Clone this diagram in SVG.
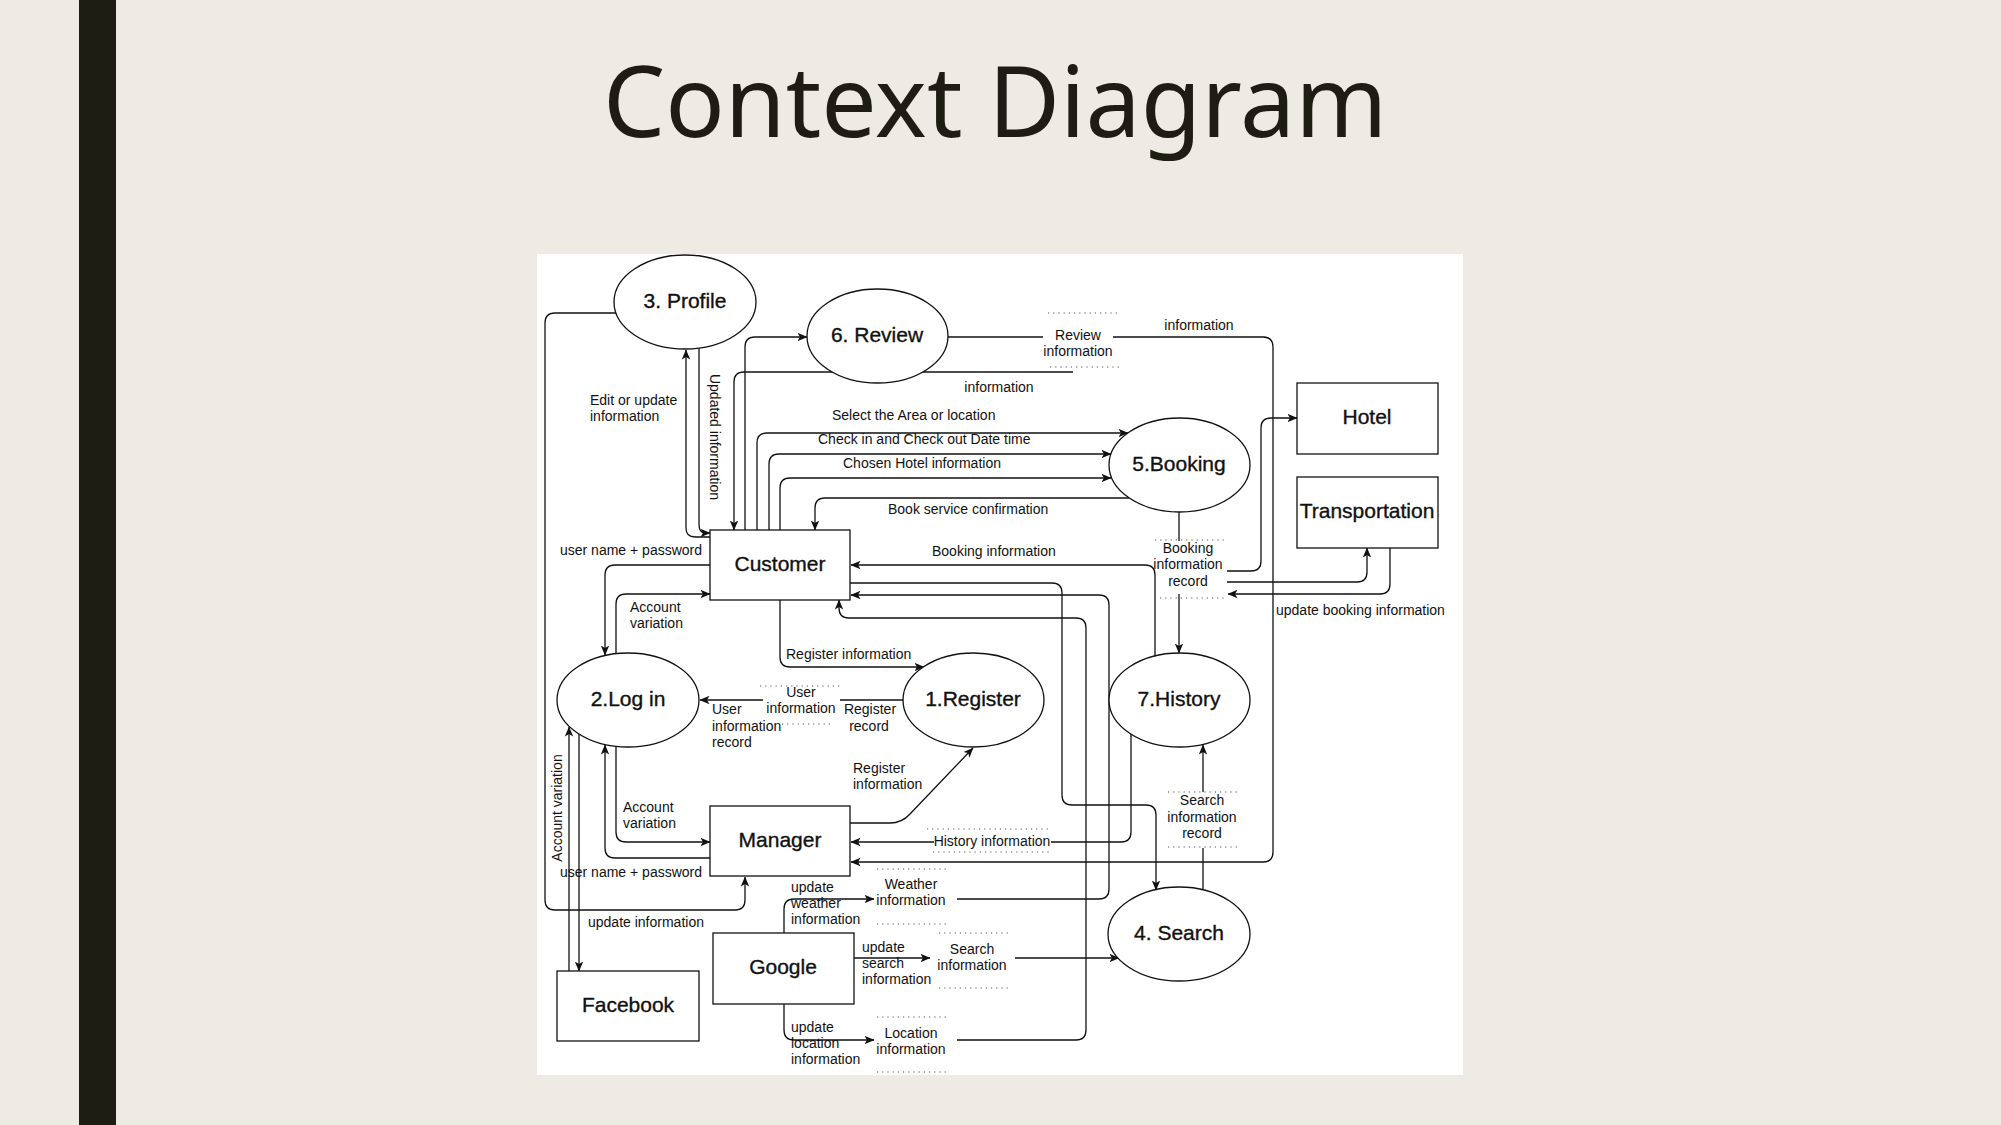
<svg xmlns="http://www.w3.org/2000/svg" width="2001" height="1125" viewBox="0 0 2001 1125">
<style>
.bg{fill:#EEEBE4}
.ln{fill:none;stroke:#111;stroke-width:1.3}
.ar{fill:none;stroke:#111;stroke-width:1.3;marker-end:url(#a)}
.dt{fill:none;stroke:#555;stroke-width:1.2;stroke-dasharray:1.2 4}
.sh{fill:#fff;stroke:#111;stroke-width:1.3}
text{font-family:"Liberation Sans",Arial,sans-serif;fill:#111}
.nt{font-size:21px;text-anchor:middle;stroke:#111;stroke-width:0.35}
.lb{font-size:14px}
.lc{font-size:14px;text-anchor:middle}
</style>
<defs>
<marker id="a" viewBox="0 0 10 10" refX="9.5" refY="5" markerWidth="10" markerHeight="10" markerUnits="userSpaceOnUse" orient="auto">
<path d="M0,0.8 L10,5 L0,9.2 L2.5,5 z" fill="#111"/>
</marker>
</defs>
<rect class="bg" x="0" y="0" width="2001" height="1125"/>
<rect x="79" y="0" width="37" height="1125" fill="#1D1D13"/>
<text x="603" y="137" style="font-family:'Noto Sans','Open Sans',sans-serif;font-size:98.5px;fill:#1D1D13">Context Diagram</text>
<rect x="537" y="254" width="926" height="821" fill="#fff"/>

<g id="connectors">
<path class="ar" d="M616 313 H555 Q545 313 545 323 V900 Q545 910 555 910 H735 Q745 910 745 900 V877"/>
<text class="lb" x="588" y="927">update information</text>
<path class="ar" d="M710 537 H695 Q686 537 686 528 V350"/>
<text class="lb" x="590" y="405">Edit or update</text>
<text class="lb" x="590" y="421">information</text>
<path class="ar" d="M699 348 V524 Q699 533 705 533 H710"/>
<text class="lc" transform="translate(710,437) rotate(90)">Updated information</text>
<path class="ar" d="M710 565 H615 Q605 565 605 575 V655"/>
<text class="lb" x="560" y="555">user name + password</text>
<path class="ar" d="M616 654 V604 Q616 594 626 594 H710"/>
<text class="lb" x="630" y="612">Account</text>
<text class="lb" x="630" y="628">variation</text>
<path class="ar" d="M780 600 V657 Q780 667 790 667 H924"/>
<text class="lb" x="786" y="659">Register information</text>
<path class="ln" d="M903 700 H840"/>
<path class="ar" d="M763 700 H700"/>
<path class="dt" d="M760 686 H843"/>
<path class="dt" d="M782 724 H834"/>
<text class="lc" x="801" y="697">User</text>
<text class="lc" x="801" y="713">information</text>
<text class="lb" x="712" y="714">User</text>
<text class="lb" x="712" y="731">information</text>
<text class="lb" x="712" y="747">record</text>
<text class="lc" x="870" y="714">Register</text>
<text class="lc" x="869" y="731">record</text>
<path class="ar" d="M850 823 H890 Q902 823 910 814 L973 748"/>
<text class="lb" x="853" y="773">Register</text>
<text class="lb" x="853" y="789">information</text>
<path class="ar" d="M616 747 V832 Q616 842 626 842 H710"/>
<text class="lb" x="623" y="812">Account</text>
<text class="lb" x="623" y="828">variation</text>
<path class="ar" d="M710 858 H615 Q605 858 605 848 V745"/>
<text class="lb" x="560" y="877">user name + password</text>
<path class="ar" d="M569 971 V727"/>
<path class="ar" d="M579 734 V971"/>
<text class="lc" transform="translate(562,808) rotate(-90)">Account variation</text>
<path class="ar" d="M745 530 V347 Q745 337 755 337 H807"/>
<path class="ar" d="M1073 372 H744 Q734 372 734 382 V530"/>
<text class="lc" x="999" y="392">information</text>
<path class="ln" d="M948 337 H1043"/>
<path class="ar" d="M1113 337 H1263 Q1273 337 1273 347 V852 Q1273 862 1263 862 H851"/>
<path class="dt" d="M1048 313 H1120"/>
<path class="dt" d="M1050 367 H1122"/>
<text class="lc" x="1078" y="340">Review</text>
<text class="lc" x="1078" y="356">information</text>
<text class="lc" x="1199" y="330">information</text>
<path class="ar" d="M757 530 V443 Q757 433 767 433 H1128"/>
<text class="lb" x="832" y="420">Select the Area or location</text>
<path class="ar" d="M769 537 V464 Q769 454 779 454 H1111"/>
<text class="lb" x="818" y="444">Check in and Check out Date time</text>
<path class="ar" d="M780 530 V488 Q780 478 790 478 H1111"/>
<text class="lb" x="843" y="468">Chosen Hotel information</text>
<path class="ar" d="M1129 498 H825 Q815 498 815 508 V530"/>
<text class="lb" x="888" y="514">Book service confirmation</text>
<path class="ar" d="M1155 656 V575 Q1155 565 1145 565 H851"/>
<text class="lb" x="932" y="556">Booking information</text>
<path class="ln" d="M1179 512 V541"/>
<path class="ar" d="M1179 594 V653"/>
<path class="dt" d="M1155 540 H1227"/>
<path class="dt" d="M1160 598 H1227"/>
<text class="lc" x="1188" y="553">Booking</text>
<text class="lc" x="1188" y="569">information</text>
<text class="lc" x="1188" y="586">record</text>
<path class="ar" d="M1227 571 H1251 Q1261 571 1261 561 V428 Q1261 418 1271 418 H1297"/>
<path class="ar" d="M1227 582 H1357 Q1367 582 1367 572 V548"/>
<path class="ar" d="M1390 548 V584 Q1390 594 1380 594 H1228"/>
<text class="lb" x="1276" y="615">update booking information</text>
<path class="ar" d="M850 583 H1052 Q1062 583 1062 593 V795 Q1062 805 1072 805 H1146 Q1156 805 1156 815 V890"/>
<path class="ar" d="M957 899 H1099 Q1109 899 1109 889 V605 Q1109 595 1099 595 H851"/>
<path class="ar" d="M957 1040 H1076 Q1086 1040 1086 1030 V628 Q1086 618 1076 618 H849 Q839 618 839 608 V600"/>
<path class="ln" d="M1131 734 V832 Q1131 842 1121 842 H1051"/>
<path class="ar" d="M934 842 H851"/>
<path class="dt" d="M927 829 H1050"/>
<path class="dt" d="M933 852 H1052"/>
<text class="lc" x="992" y="846">History information</text>
<path class="ln" d="M1203 890 V848"/>
<path class="ar" d="M1203 792 V745"/>
<path class="dt" d="M1168 792 H1240"/>
<path class="dt" d="M1168 847 H1240"/>
<text class="lc" x="1202" y="805">Search</text>
<text class="lc" x="1202" y="822">information</text>
<text class="lc" x="1202" y="838">record</text>
<path class="ar" d="M784 933 V909 Q784 899 794 899 H874"/>
<text class="lb" x="791" y="892">update</text>
<text class="lb" x="791" y="908">weather</text>
<text class="lb" x="791" y="924">information</text>
<path class="dt" d="M877 869 H949"/>
<path class="dt" d="M877 924 H949"/>
<text class="lc" x="911" y="889">Weather</text>
<text class="lc" x="911" y="905">information</text>
<path class="ar" d="M854 958 H930"/>
<path class="ar" d="M1015 958 H1119"/>
<text class="lb" x="862" y="952">update</text>
<text class="lb" x="862" y="968">search</text>
<text class="lb" x="862" y="984">information</text>
<path class="dt" d="M939 933 H1010"/>
<path class="dt" d="M939 988 H1010"/>
<text class="lc" x="972" y="954">Search</text>
<text class="lc" x="972" y="970">information</text>
<path class="ar" d="M784 1004 V1030 Q784 1040 794 1040 H874"/>
<text class="lb" x="791" y="1032">update</text>
<text class="lb" x="791" y="1048">location</text>
<text class="lb" x="791" y="1064">information</text>
<path class="dt" d="M877 1017 H949"/>
<path class="dt" d="M877 1072 H949"/>
<text class="lc" x="911" y="1038">Location</text>
<text class="lc" x="911" y="1054">information</text>
</g>

<g id="profile"><ellipse class="sh" cx="685" cy="302" rx="71" ry="47"/><text class="nt" x="685" y="307.5">3. Profile</text></g>
<g id="review"><ellipse class="sh" cx="877.5" cy="336" rx="70.5" ry="47"/><text class="nt" x="877" y="341.5">6. Review</text></g>
<g id="booking"><ellipse class="sh" cx="1179.5" cy="465" rx="70.5" ry="47"/><text class="nt" x="1179" y="470.5">5.Booking</text></g>
<g id="login"><ellipse class="sh" cx="628" cy="700" rx="71" ry="47"/><text class="nt" x="628" y="705.5">2.Log in</text></g>
<g id="register"><ellipse class="sh" cx="973.5" cy="700" rx="70.5" ry="47"/><text class="nt" x="973" y="705.5">1.Register</text></g>
<g id="history"><ellipse class="sh" cx="1179.5" cy="700" rx="70.5" ry="47"/><text class="nt" x="1179" y="705.5">7.History</text></g>
<g id="search"><ellipse class="sh" cx="1179" cy="934" rx="71" ry="47"/><text class="nt" x="1179" y="939.5">4. Search</text></g>
<g id="customer"><rect class="sh" x="710" y="530" width="140" height="70"/><text class="nt" x="780" y="570.5">Customer</text></g>
<g id="manager"><rect class="sh" x="710" y="806" width="140" height="70"/><text class="nt" x="780" y="846.5">Manager</text></g>
<g id="google"><rect class="sh" x="713" y="933" width="141" height="71"/><text class="nt" x="783" y="973.5">Google</text></g>
<g id="facebook"><rect class="sh" x="557" y="971" width="142" height="70"/><text class="nt" x="628" y="1011.5">Facebook</text></g>
<g id="hotel"><rect class="sh" x="1297" y="383" width="141" height="71"/><text class="nt" x="1367" y="423.5">Hotel</text></g>
<g id="transportation"><rect class="sh" x="1297" y="477" width="141" height="71"/><text class="nt" x="1367" y="517.5">Transportation</text></g>
</svg>
